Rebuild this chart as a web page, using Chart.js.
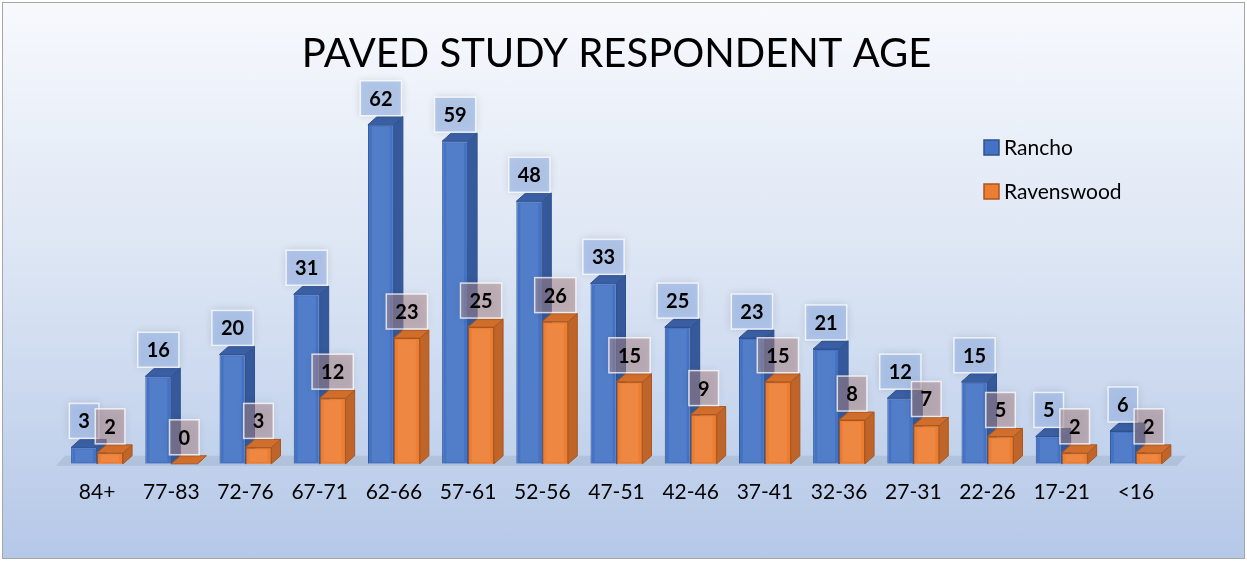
<!DOCTYPE html>
<html>
<head>
<meta charset="utf-8">
<script src="https://cdn.jsdelivr.net/npm/chart.js@4.4.0/dist/chart.umd.min.js"></script>
<style>
  html, body { margin: 0; padding: 0; background: #ffffff; }
  #wrap {
    position: absolute; left: 2px; top: 2px;
    width: 1241px; height: 555px;
    border: 1px solid #a6a6a6;
    background: linear-gradient(#f7f9fd 0%, #dde6f4 45%, #b5c8e8 100%);
  }
  canvas { display: block; }
</style>
</head>
<body>
<div id="wrap"><canvas id="chart" width="1241" height="555"></canvas></div>
<script>
// data
const categories = ['84+', '77-83', '72-76', '67-71', '62-66', '57-61', '52-56', '47-51',
                    '42-46', '37-41', '32-36', '27-31', '22-26', '17-21', '<16'];
const rancho     = [3, 16, 20, 31, 62, 59, 48, 33, 25, 23, 21, 12, 15, 5, 6];
const ravenswood = [2, 0, 3, 12, 23, 25, 26, 15, 9, 15, 8, 7, 5, 2, 2];
const seriesNames = ['Rancho', 'Ravenswood'];
const chartTitle = 'PAVED STUDY RESPONDENT AGE';
const yMax = 70;

const FONT = 'Lato, "Open Sans", sans-serif';
const DX = 9, DY = 8;   // fake 3d depth

const looks = [
  { front: '#4472c4', edge: '#2f528f', side: '#36599b', top: '#3b60a6', label: 'rgba(165,190,232,0.78)' },
  { front: '#ed7d31', edge: '#a9561f', side: '#c0652a', top: '#d36f2c', label: 'rgba(175,135,135,0.50)' }
];

function drawDepth(ctx, bar, look) {
  const p = bar.getProps(['x', 'y', 'base', 'width'], true);
  const l = p.x - p.width / 2, r = p.x + p.width / 2;
  ctx.lineWidth = 1;
  ctx.strokeStyle = look.edge;
  // side
  ctx.fillStyle = look.side;
  ctx.beginPath();
  ctx.moveTo(r, p.y);
  ctx.lineTo(r + DX, p.y - DY);
  ctx.lineTo(r + DX, p.base - DY);
  ctx.lineTo(r, p.base);
  ctx.closePath();
  ctx.fill();
  ctx.stroke();
  // top
  ctx.fillStyle = look.top;
  ctx.beginPath();
  ctx.moveTo(l, p.y);
  ctx.lineTo(l + DX, p.y - DY);
  ctx.lineTo(r + DX, p.y - DY);
  ctx.lineTo(r, p.y);
  ctx.closePath();
  ctx.fill();
  ctx.stroke();
  // light stripe on the front face
  if (p.base - p.y > 6) {
    ctx.fillStyle = 'rgba(255,255,255,0.08)';
    ctx.fillRect(l + 4, p.y + 2, p.width - 8, p.base - p.y - 4);
  }
}

// floor under the bars
const floorPlugin = {
  id: 'floor',
  beforeDatasetsDraw(chart) {
    const { ctx, chartArea: a } = chart;
    ctx.save();
    ctx.fillStyle = 'rgba(120,135,165,0.22)';
    ctx.beginPath();
    ctx.moveTo(a.left - 4, a.bottom + 2);
    ctx.lineTo(a.right + 4, a.bottom + 2);
    ctx.lineTo(a.right + 4 + DX, a.bottom - DY);
    ctx.lineTo(a.left - 4 + DX, a.bottom - DY);
    ctx.closePath();
    ctx.fill();
    ctx.restore();
  }
};

// side + top faces; back series first, then front series is redrawn over it
const depthPlugin = {
  id: 'depth',
  afterDatasetsDraw(chart) {
    const ctx = chart.ctx;
    ctx.save();
    chart.getDatasetMeta(0).data.forEach(bar => drawDepth(ctx, bar, looks[0]));
    chart.getDatasetMeta(1).data.forEach(bar => {
      bar.draw(ctx);
      drawDepth(ctx, bar, looks[1]);
    });
    ctx.restore();
  }
};

// value boxes above the bars
const labelPlugin = {
  id: 'valueBoxes',
  afterDatasetsDraw(chart) {
    const ctx = chart.ctx;
    ctx.save();
    ctx.font = 'bold 20px ' + FONT;
    ctx.textAlign = 'center';
    ctx.textBaseline = 'middle';
    chart.data.datasets.forEach((ds, i) => {
      const meta = chart.getDatasetMeta(i);
      meta.data.forEach((bar, j) => {
        const p = bar.getProps(['x', 'y'], true);
        const txt = String(ds.data[j]);
        const w = ctx.measureText(txt).width + 18;
        const h = 35;
        const bx = p.x - w / 2, by = p.y - DY - 1 - h;
        ctx.shadowColor = 'rgba(0,0,0,0.18)';
        ctx.shadowBlur = 8;
        ctx.fillStyle = looks[i].label;
        ctx.fillRect(bx, by, w, h);
        ctx.shadowColor = 'transparent';
        ctx.strokeStyle = 'rgba(255,255,255,0.75)';
        ctx.lineWidth = 1.5;
        ctx.strokeRect(bx, by, w, h);
        ctx.fillStyle = '#000000';
        ctx.fillText(txt, p.x, by + h / 2 + 1);
      });
    });
    ctx.restore();
  }
};

// legend on the right
const legendPlugin = {
  id: 'sideLegend',
  afterDraw(chart) {
    const ctx = chart.ctx;
    ctx.save();
    ctx.font = '21px ' + FONT;
    ctx.textBaseline = 'middle';
    chart.data.datasets.forEach((ds, i) => {
      const cy = 144 + i * 44;
      ctx.fillStyle = looks[i].front;
      ctx.strokeStyle = looks[i].edge;
      ctx.lineWidth = 1.5;
      ctx.fillRect(981, cy - 7, 15, 15);
      ctx.strokeRect(981, cy - 7, 15, 15);
      ctx.fillStyle = '#000000';
      ctx.fillText(ds.label, 1001, cy + 1);
    });
    ctx.restore();
  }
};

const ctx = document.getElementById('chart');
new Chart(ctx, {
  type: 'bar',
  data: {
    labels: categories,
    datasets: [
      {
        label: seriesNames[0],
        data: rancho,
        backgroundColor: looks[0].front,
        borderColor: looks[0].edge,
        borderWidth: 1
      },
      {
        label: seriesNames[1],
        data: ravenswood,
        backgroundColor: looks[1].front,
        borderColor: looks[1].edge,
        borderWidth: 1
      }
    ]
  },
  options: {
    responsive: false,
    animation: false,
    events: [],
    layout: { padding: { left: 57, right: 71, top: 0, bottom: 37 } },
    datasets: { bar: { categoryPercentage: 0.7, barPercentage: 1.0 } },
    scales: {
      x: {
        grid: { display: false, drawTicks: false },
        border: { display: false },
        ticks: { color: '#000000', font: { family: FONT, size: 21 }, padding: 16, maxRotation: 0 }
      },
      y: {
        display: false,
        min: 0,
        max: yMax
      }
    },
    plugins: {
      legend: { display: false },
      tooltip: { enabled: false },
      title: {
        display: true,
        text: chartTitle,
        color: '#000000',
        font: { family: FONT, size: 40, weight: 'normal' },
        padding: { top: 27, bottom: 3 }
      }
    }
  },
  plugins: [floorPlugin, depthPlugin, labelPlugin, legendPlugin]
});
</script>
</body>
</html>
